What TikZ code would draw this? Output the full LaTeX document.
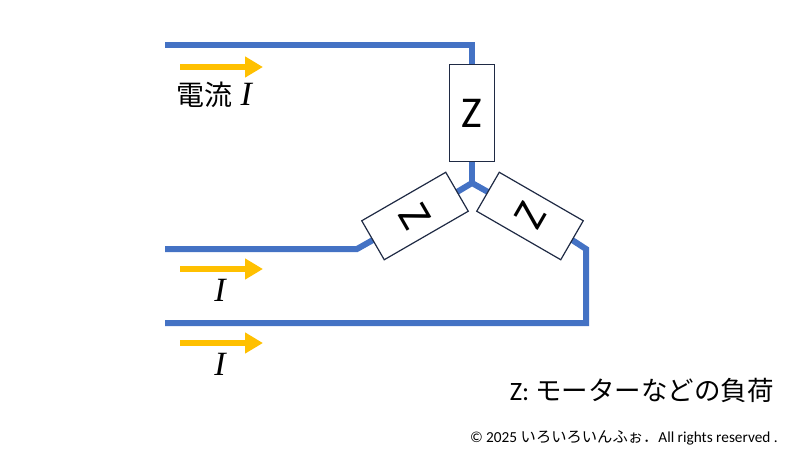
\documentclass[tikz,border=0pt]{standalone}
\usepackage{fontspec}
\setmainfont{Carlito}
\newfontfamily\cjk{Noto Sans CJK JP}
\newfontfamily\ser{Liberation Serif}
\usetikzlibrary{arrows.meta}
\definecolor{wire}{HTML}{4472C4}
\definecolor{arr}{HTML}{FFC000}
\definecolor{boxc}{HTML}{1F2A44}
\begin{document}
\begin{tikzpicture}[x=1pt,y=-1pt,
  wirel/.style={draw=wire,line width=6pt},
  zbox/.style={draw=boxc,line width=1.2pt,fill=white,minimum width=45pt,minimum height=97pt,inner sep=0pt,font=\fontsize{44}{44}\selectfont},
  curr/.style={draw=arr,line width=6pt,-{Triangle[length=18pt,width=20pt]}},
  lab/.style={font=\ser\itshape\fontsize{34}{34}\selectfont}]
\useasboundingbox (0,0) rectangle (800,450);
\coordinate (tl) at (165,45);
\coordinate (tr) at (472,45);
\coordinate (j) at (472,183);
\coordinate (ml) at (165,249);
\coordinate (mb) at (357,249);
\coordinate (bl) at (165,323);
\coordinate (br) at (586,323);
\coordinate (rb) at (586,249);
\draw[wirel] (tl) -- (tr) -- (472,70);
\draw[wirel] (472,155) -- (j);
\draw[wirel,line join=round] (457,192) -- (j) -- (488,192);
\draw[wirel] (ml) -- (mb) -- (380,236);
\draw[wirel] (566,236) -- (rb) -- (br) -- (bl);
\node[zbox] (z1) at (472,113) {Z};
\node[zbox,rotate=-60] (z2) at (415,216) {Z};
\node[zbox,rotate=60] (z3) at (530,216) {Z};
\coordinate (a1s) at (180,67); \coordinate (a1e) at (263,67);
\coordinate (a2s) at (180,269); \coordinate (a2e) at (263,269);
\coordinate (a3s) at (180,343); \coordinate (a3e) at (263,343);
\draw[curr] (a1s) -- (a1e);
\draw[curr] (a2s) -- (a2e);
\draw[curr] (a3s) -- (a3e);
\node[lab,anchor=west,inner sep=0pt] (l1) at (176,95) {{\upshape\cjk\fontsize{28}{28}\selectfont 電流} I};
\node[lab] (l2) at (220,290) {I};
\node[lab] (l3) at (220,364) {I};
\node[anchor=east,inner sep=0pt,font=\fontsize{26.5}{27}\selectfont] (leg) at (774,390) {Z: {\cjk モーターなどの負荷}};
\node[anchor=east,inner sep=0pt,font=\fontsize{15.3}{16}\selectfont] (cp) at (778,438) {© 2025 {\cjk いろいろいんふぉ．}All rights reserved .};
\end{tikzpicture}
\end{document}
